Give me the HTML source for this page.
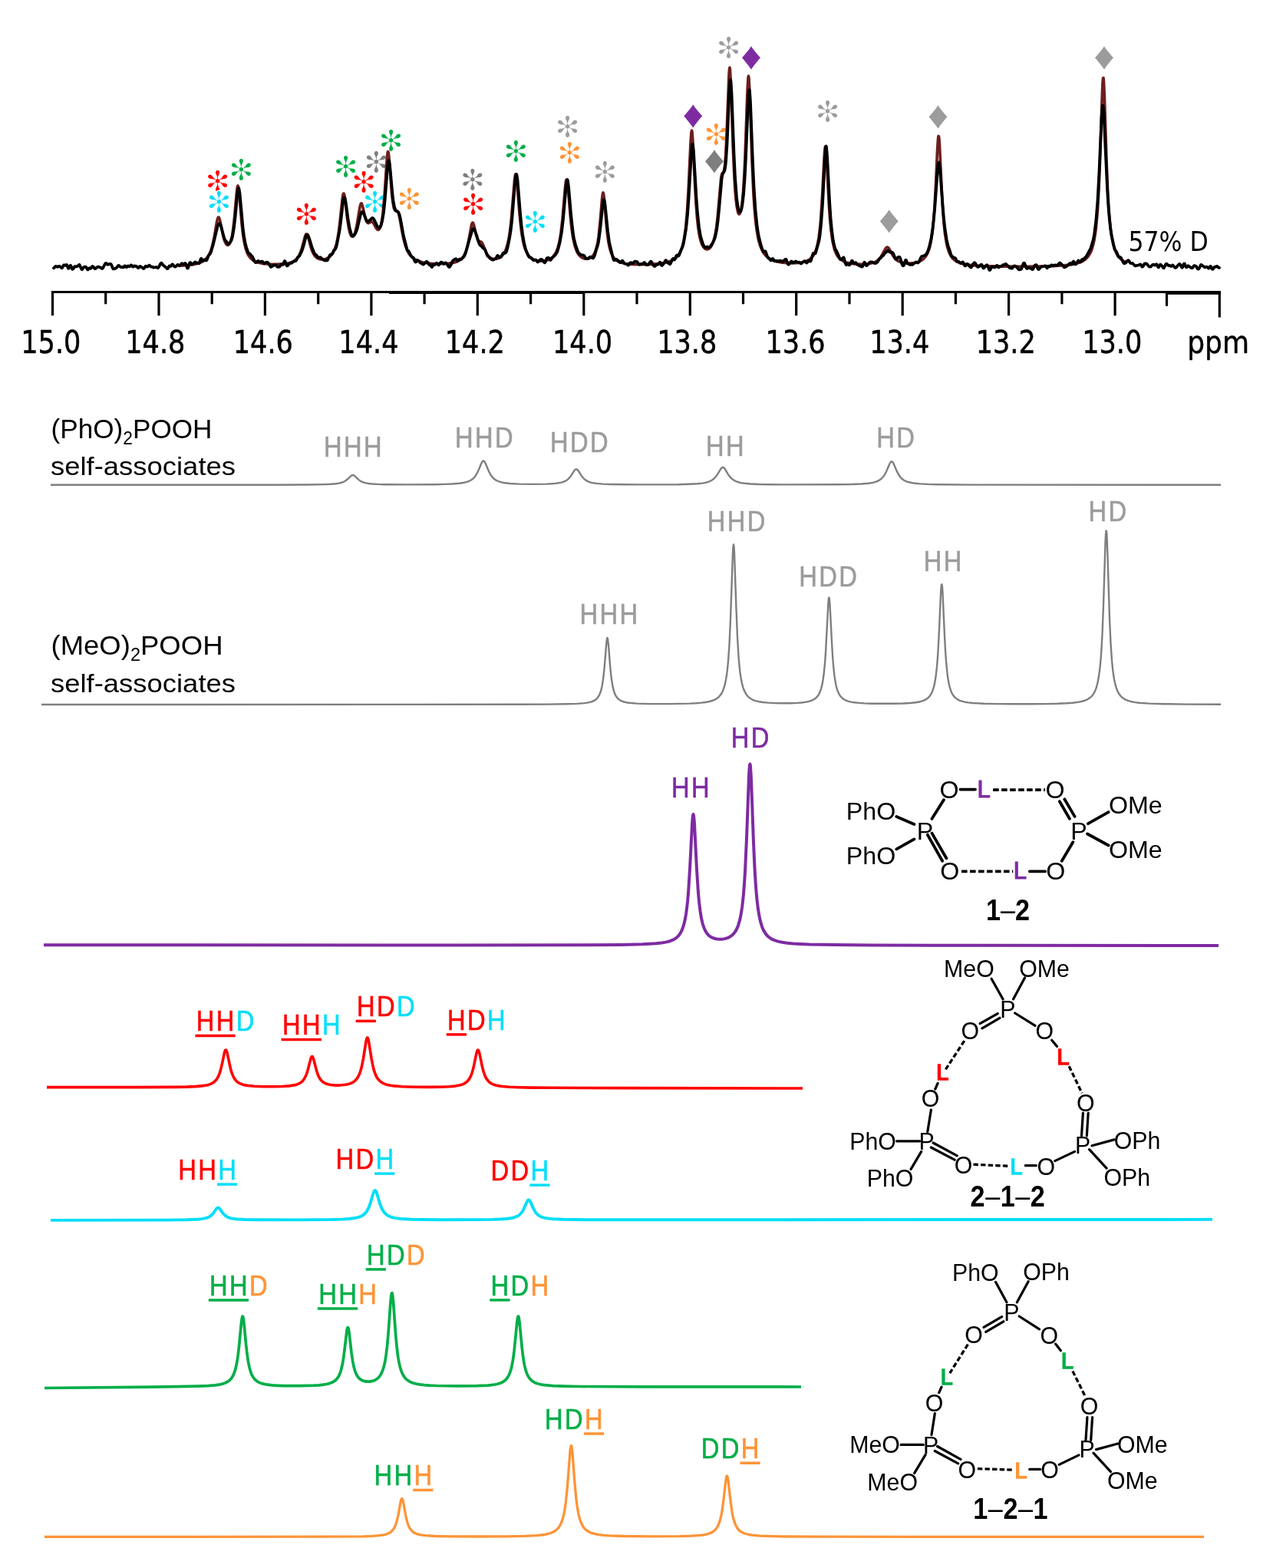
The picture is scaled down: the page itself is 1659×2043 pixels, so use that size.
<!DOCTYPE html>
<html lang="en"><head><meta charset="utf-8"><title>NMR spectrum 57% D</title>
<style>html,body{margin:0;padding:0;background:#fff}svg{display:block}text{white-space:pre}</style></head><body>
<svg width="1659" height="2043" viewBox="0 0 1659 2043">
<rect width="1659" height="2043" fill="#fff"/>
<g font-family="'DejaVu Sans','Liberation Sans',sans-serif" font-size="39" text-anchor="middle" stroke="#fff" stroke-width="1.3">
<text x="283.5" y="250.2" fill="#ff0000">✻</text>
<text x="285.4" y="277.4" fill="#04def8">✻</text>
<text x="314.4" y="234.7" fill="#00ae48">✻</text>
<text x="399.3" y="293.1" fill="#ff0000">✻</text>
<text x="450.6" y="230.6" fill="#00ae48">✻</text>
<text x="474.2" y="251.1" fill="#ff0000">✻</text>
<text x="490.4" y="224.6" fill="#7f7f7f">✻</text>
<text x="488.7" y="276.5" fill="#04def8">✻</text>
<text x="509.7" y="196.9" fill="#00ae48">✻</text>
<text x="533.3" y="272.8" fill="#fd9437">✻</text>
<text x="615.8" y="247.5" fill="#7f7f7f">✻</text>
<text x="616.5" y="279.6" fill="#ff0000">✻</text>
<text x="672.4" y="210.9" fill="#00ae48">✻</text>
<text x="697.3" y="303.0" fill="#04def8">✻</text>
<text x="739.5" y="178.8" fill="#9c9c9c">✻</text>
<text x="742.4" y="212.6" fill="#fd9437">✻</text>
<text x="788.4" y="237.9" fill="#9c9c9c">✻</text>
<text x="933.3" y="189.0" fill="#fd9437">✻</text>
<text x="949.5" y="76.4" fill="#9c9c9c">✻</text>
<text x="1078.5" y="159.1" fill="#9c9c9c">✻</text>
</g>
<g font-family="'Liberation Sans','DejaVu Sans',sans-serif" font-size="50" text-anchor="middle">
<text transform="translate(903.2 151.4) scale(1.08 1)" y="14.5" fill="#7e2ba2">♦</text>
<text transform="translate(930.9 210.5) scale(1.08 1)" y="14.5" fill="#7f7f7f">♦</text>
<text transform="translate(979.1 75.5) scale(1.08 1)" y="14.5" fill="#7e2ba2">♦</text>
<text transform="translate(1158.8 288.1) scale(1.08 1)" y="14.5" fill="#9c9c9c">♦</text>
<text transform="translate(1222.6 152.3) scale(1.08 1)" y="14.5" fill="#9c9c9c">♦</text>
<text transform="translate(1439.1 75.6) scale(1.08 1)" y="14.5" fill="#9c9c9c">♦</text>
</g>
<path d="M235.5 346.3L243 345.7L249 345L254 344.2L258.5 343L262 341.7L265 340.1L267.5 338.2L270 335.5L272 332.5L273.5 329.6L275 325.8L276.5 320.9L279 309.6L282.5 289.4L283.5 285.2L284 283.9L284.5 283.1L285 283L285.5 283.6L286.5 286.4L290.5 306L292 311.8L293 314.7L294.5 317.7L296 319.2L297 319.4L297.5 319.2L298.5 318.4L299 317.7L300.5 314.5L301.5 311.1L302.5 306.6L303.5 300.6L305.5 283.3L308.5 249.2L309.5 242.8L310 242L310.5 243.1L311.5 250L315 291.3L316.5 304.7L318 314.4L320 323.3L322 329.1L323.5 332.2L325 334.5L326.5 336.4L328.5 338.2L330.5 339.6L332.5 340.7L337 342.3L343 343.5L351 344.3L360.5 344.4L369.5 343.9L373 343.4L376.5 342.7L379 342L381.5 341L384 339.5L386.5 337.4L388.5 334.9L390 332.3L391.5 329L393 324.7L397.5 308L398.5 305.7L399 305.1L399.5 305L400 305.4L400.5 306.2L401.5 308.9L404.5 320.1L406.5 326.4L408.5 330.8L409.5 332.4L411 334.3L412.5 335.7L414.5 336.9L416.5 337.7L418.5 338L420.5 338.1L423 337.8L425.5 337L427.5 336.1L429.5 334.7L431 333.4L432.5 331.6L434 329.4L435.5 326.4L436.5 324L438.5 317.4L440 310.4L441.5 301L443 288.6L446 259.8L447 253.6L447.5 252.2L448 252.1L448.5 253.2L449 255.5L450 262.7L452.5 284.5L454.5 297.4L456 303.5L457 306.1L458 307.7L459 308.3L459.5 308.3L460.5 307.6L462 305L463 302.1L465 293.5L469 269.6L470 265.9L470.5 265.1L471 264.9L471.5 265.5L472.5 268.3L476 284L477 287.2L478 289.3L479 290.4L480 290.8L481 290.5L483.5 288.9L484.5 288.8L485 289L486.5 290.5L490 296.9L491.5 298.9L492.5 299.5L493 299.5L494 298.9L494.5 298.2L496 294.6L497 290.6L498 285L499 277.4L501 255.1L504 209.4L505 199.5L505.5 197.6L506 198L506.5 200.5L507 205L510.5 251.5L511.5 261L513 270L513.5 271.8L514.5 274L515.5 274.8L517 274.8L518 275.3L519 277L519.5 278.4L521 284.8L524 301.9L526 311.8L528 319.4L530.5 326.1L533 330.7L536 334.4L538 336.2L540 337.6L544.5 339.8L550.5 341.7L558 343L567 343.7L576.5 343.8L584 343.4L590.5 342.4L595.5 341L597.5 340L599.5 338.8L602 336.6L604 334L606 330.3L607.5 326.4L609 321.3L610 317L614.5 292.9L615.5 290.3L616 290L616.5 290.3L617.5 292.8L620.5 305.9L621.5 309.4L622.5 312L623 312.9L624 314.1L625 314.6L627 315.1L628 316L628.5 316.7L629.5 318.7L633.5 328.7L635 331.5L636.5 333.6L638 335.1L640 336.4L642 337.2L644.5 337.5L647 337.3L649.5 336.6L651.5 335.6L653.5 334.1L655.5 331.9L657 329.7L658.5 326.8L659.5 324.4L661.5 317.9L663.5 308.1L665 297.6L666.5 283.5L670.5 234.5L671.5 227.9L672 227L672.5 227.9L673.5 234.6L677 278.1L678.5 293.5L680 305.2L681.5 313.8L682.5 318.2L684 323.4L685 326.1L686.5 329.3L688 331.8L690 334.3L692 336.1L694 337.4L696 338.4L698.5 339.3L701 339.8L703.5 340.1L708.5 340L711 339.6L713.5 339L715.5 338.2L717.5 337.1L720.5 334.6L723 331.5L724.5 328.9L725.5 326.7L727 322.5L728.5 316.9L730 309.3L731 302.8L733 285.2L736.5 244L737.5 236.1L738 234.3L738.5 234.1L739 235.6L740 242.9L743 278.6L744.5 293.8L745.5 301.9L747 311.4L749 320.2L751 326L752 328.2L753.5 330.8L755 332.8L756.5 334.3L759 336L762 337.1L765 337.3L768 336.7L770.5 335.3L772.5 333.4L774.5 330.4L776 327L778 320L779 315L780 308.5L782 289.8L784.5 259.5L785.5 252L786 251L786.5 252.1L787.5 259.6L790.5 295.8L791.5 305.3L793 315.9L794.5 323.2L796.5 329.7L798.5 333.9L801 337.3L802.5 338.7L804.5 340.1L806.5 341.1L809 342.1L815 343.5L823 344.4L835.5 344.8L849.5 344.4L860.5 343.4L865 342.7L869 341.8L874 340.2L878 338.2L881.5 335.4L884 332.4L886.5 328.2L888.5 323.2L890 318L891.5 310.9L893.5 297L895.5 274.7L897 249.9L900 185.1L901 171.9L901.5 170L902 171.7L903 184.6L905.5 238.4L907 265.4L908.5 284.6L910 298L911 304.4L912 309.5L913.5 315.1L915 319L916.5 321.7L918.5 323.8L919.5 324.4L920.5 324.8L921.5 324.9L923 324.5L924.5 323.6L925.5 322.7L927 320.6L928 318.8L930 313.7L932 305.7L933.5 297L935 284.8L939.5 233.5L940 230L940.5 227.6L941 226.2L941.5 225.5L942.5 224.8L943 224L943.5 222.4L944.5 216.1L945.5 204.3L946.5 186.2L950 96.4L950.5 89.9L951 88L951.5 91.1L952.5 110.4L955 186.6L957 232.7L958 248.2L959 259.8L960 268.2L961.5 275.9L962 277.4L962.5 278.4L963 279L963.5 279L964 278.6L965 276.4L966 272.1L967 265.4L968.5 249.8L970 225.4L971 203.1L974 118.1L975 101L975.5 99L976 101.8L977 120.4L980 210.5L982 254.2L983 269.6L984.5 286.9L986 299.2L988 310.5L989 314.8L990.5 319.8L993 325.9L994.5 328.6L996.5 331.4L998.5 333.6L1000.5 335.4L1003 337.1L1005.5 338.4L1008.5 339.6L1012 340.7L1016 341.6L1020 342.2L1029.5 342.9L1037.5 342.8L1044 342.1L1049.5 340.8L1053.5 339L1055.5 337.7L1057 336.4L1059.5 333.5L1062 329.1L1064 323.6L1065.5 317.7L1067 309.5L1068.5 297.6L1069.5 287L1071.5 256.6L1074 206.5L1075 193.4L1075.5 191.1L1076 192.1L1076.5 196.3L1077 203.2L1080.5 270.4L1081.5 284.7L1083 300.5L1085 314.4L1087 323.2L1088 326.4L1089.5 330.1L1091 332.9L1093 335.6L1095.5 338.1L1099 340.3L1103 341.9L1108 343.1L1114.5 343.9L1122 344.2L1129 344L1135 343.1L1138 342.3L1140.5 341.3L1143 339.8L1145 338.2L1147 336L1148.5 333.9L1154 323.9L1155.5 322.2L1156.5 322L1157.5 322.5L1158.5 323.7L1163.5 332.8L1165 335L1166.5 336.9L1168 338.3L1170 339.8L1172 340.9L1174 341.7L1177.5 342.6L1182 343.1L1186.5 343.1L1191 342.6L1194.5 341.9L1198 340.8L1201 339.2L1203.5 337.4L1205.5 335.3L1207.5 332.5L1209 329.6L1210.5 325.8L1212 320.7L1213 316.3L1215 303.8L1216.5 289.5L1218 268.9L1219.5 240.4L1221.5 196L1222.5 180.5L1223 177.3L1223.5 177.7L1224 181.6L1224.5 188.7L1227 242.7L1228.5 270.7L1230 290.8L1231.5 304.8L1233.5 317.1L1234.5 321.4L1236 326.5L1237.5 330.3L1239.5 333.9L1241.5 336.6L1243.5 338.5L1247 340.9L1251 342.7L1256 344L1262.5 345.1L1270.5 345.9L1280.5 346.5L1309.5 347.1L1333 347.2L1355 347L1371.5 346.6L1384 346L1393.5 345.1L1401 343.9L1407 342.1L1411.5 340L1415 337.5L1418 334.3L1420.5 330.4L1422.5 325.9L1424.5 319.6L1426 313L1427.5 304L1428.5 296.1L1430.5 273.5L1432 247.6L1433.5 211L1436.5 117.9L1437 107.7L1437.5 102L1438 101.4L1438.5 106.1L1439.5 128.5L1442 208.1L1443.5 245.6L1444.5 264.3L1445.5 278.9L1447.5 299.5L1449 309.7L1450.5 317.2L1452.5 324.3L1455 330.2L1457.5 334.2L1459 336L1461 337.9L1463 339.4L1465 340.6L1469.5 342.6" fill="none" stroke="#6d1e1e" stroke-width="3.6" stroke-linejoin="round"/>
<path d="M70 349.3L72.5 346.9L73 346.9L75 347.8L77 346.8L78 347.1L80.5 349.3L81 349.2L83 345.4L83.5 345.2L85 345.9L86.5 345L87 345.1L87.5 345.9L88.5 348.7L89 349.7L89.5 349.9L90 349.3L91.5 346L92 345.8L92.5 346.5L94 350.3L94.5 350.8L95 350.7L95.5 350.2L97.5 347.1L98 347L99.5 347.3L101 346.9L101.5 346.6L103 344.9L103.5 344.9L104 345.6L105.5 349.4L106.5 351L107 351.1L107.5 350.6L109 348.2L109.5 347.9L111.5 347.6L112 347.8L112.5 348.4L113.5 350.5L114 351.3L114.5 351.4L116.5 349.3L118 349.9L118.5 349.6L120 347.3L120.5 347L121.5 347.4L123.5 350.2L124.5 350L127.5 347.6L128 347.5L131 348.6L133 350L133.5 349.9L134 349.3L136.5 344.6L137.5 343.2L138 342.9L138.5 343L140 344.6L140.5 344.8L142.5 343.9L144.5 344.1L145.5 345.7L147 349.6L147.5 350.2L148 350.4L149.5 350.2L151.5 349.1L152.5 348.2L154 346.1L154.5 345.8L155 346L157 347.9L158 348.1L159.5 348L160.5 348.4L161 348.3L162.5 346.4L163 346.3L164.5 348L165 348.1L166.5 346.6L167 346.5L168.5 347.3L169 347.2L170.5 345.5L171 345.3L171.5 345.6L173 347.6L173.5 347.6L175 346.5L177.5 346.9L178.5 347.5L180 349.1L180.5 349L182 347.2L182.5 347L184.5 347.9L187 350L187.5 349.9L188 349.4L189.5 347L190 346.7L192 347.6L192.5 347.4L194 345.9L194.5 345.6L195 345.8L196.5 347.4L197 347.7L198.5 347.7L200 348.7L203.5 348L205.5 349.2L206 349L207 347.9L209 343.8L210 342.6L210.5 342.6L211 343.2L212.5 345.6L214 346.4L215 347.5L216.5 348.6L218 350.1L218.5 350.1L219 349.4L220.5 346.6L221 346.4L222.5 346.9L223 346.5L224.5 344.3L225 344.3L227 347.1L228 347.7L229 347.3L231.5 345L232 345L233.5 346.2L234 346.4L234.5 346.1L236 344L237 343.2L238 343.5L239.5 344.6L240 344.3L241 343.1L241.5 342.9L242 343.5L242.5 344.7L244 349.1L244.5 349.6L245 349.2L245.5 348L246.5 344.3L247.5 342.1L248 342L248.5 342.4L250 344.5L250.5 344.7L251 344.4L254 341.6L254.5 341.4L255 341.6L256.5 342.9L258 342.6L259 343.2L259.5 343.1L260 342.4L261.5 337.7L262 336.9L262.5 336.9L264 339.6L264.5 340L265 339.8L266.5 338.3L267 338.3L268.5 339.5L269 339.4L269.5 338.7L271.5 333.7L274 330.4L275 328.3L278 317.9L283.5 295.1L284.5 292.3L285.5 291.1L286 291.1L286.5 291.4L288 294.6L291.5 307.9L292.5 311L293.5 313.1L295 314.7L297 317.5L297.5 317.9L298.5 317.5L299.5 316.5L301.5 313.1L303 308.2L305 296.4L306.5 283.3L309.5 251.6L310.5 245.9L311 245.2L311.5 246.1L312.5 252.3L316.5 296.2L318 308L319.5 316.4L321 322.1L323.5 329.3L324 330.1L324.5 330.4L325.5 330.5L326 330.9L327.5 333.2L329 334.5L332 340.9L333 342.2L334 342L336 340.1L336.5 340L338.5 341.1L341.5 340.6L342 340.8L344 343.3L344.5 343.4L345 343.1L346.5 341.9L348 341.7L349 342.1L350 343.2L352.5 347.3L353 347.8L353.5 347.8L356.5 345.7L359 345.3L359.5 345.3L360 345.7L361.5 347.7L362 347.9L363.5 347.8L364.5 347.5L366.5 344.7L367 344.3L368.5 345L369 344.6L370.5 340.7L371 340L371.5 340.2L372 341.3L373.5 345.6L374 346.3L374.5 346.4L375 346.2L377.5 343L378 342.8L380 342.8L383 340.5L385.5 339.8L386.5 338.4L388 335.2L388.5 334.7L389.5 334.4L390 333.8L393 327.9L394 325.4L396 318.7L398.5 308.9L399.5 306.2L400 305.6L400.5 305.6L401 306.1L402 308L404 313.6L406.5 322.3L409.5 329.4L410.5 331.1L412.5 332.5L414 335L414.5 335.4L418 335.5L420.5 337.9L423 339.4L423.5 339.5L425 339.1L426.5 339.4L427 338.8L428.5 335.2L430 332.4L431 331.5L432.5 331.2L433 330.8L435 326.4L437 324.6L438 322.2L439 318.7L442.5 300.6L444 289.6L447 263.6L448 258.4L448.5 257.2L449 257.1L449.5 258.1L450.5 262.7L453.5 285L455.5 296.7L457.5 304.1L458.5 306.4L459.5 307.6L460.5 307.6L461.5 306.7L463.5 303.4L464.5 301.3L466 296.1L470 279.2L471 276.6L472 275.6L472.5 275.7L473.5 277L477 285.8L478.5 288.2L479 288.5L480 288.5L481.5 287.3L484.5 284.3L485 284L486 284.2L487.5 286L491 293.4L492.5 295.9L493.5 296.8L494 296.9L495 296.5L495.5 295.9L496.5 293.8L498 288.4L500 276.8L501.5 262.4L505 218.3L506 210.7L506.5 209.2L507 209.5L508 215.1L511.5 253.6L512.5 261.8L514 269.7L515.5 273.8L516.5 274.9L518 275.5L519 276.2L520.5 279.4L522 285.8L526 307.8L530.5 325.1L531 326L532.5 327.1L535 332.1L536.5 334.3L537 334.8L538.5 335.4L539 336.2L540.5 340.3L541 341.1L541.5 341.5L542 341.3L543.5 339.2L544 338.9L545 339.5L548 342.6L549.5 343.2L551.5 344.6L552 344.4L555.5 341L556.5 341L557.5 342.1L559 344.6L559.5 345L561 345.2L562.5 347.8L563 348.1L565 344.7L566.5 345L567 344.7L568.5 343L569 342.8L569.5 343L571 344.9L571.5 345.4L572 345.3L574 342.2L575 341.5L576 341.9L578 343.7L578.5 343.8L579 343.5L580.5 342.3L581 342.4L582 343.5L585 347.8L585.5 347.9L586 347.7L587.5 345.5L589.5 340.7L591 338.8L593 337.5L594 337.2L594.5 337.5L596 339.5L596.5 339.7L597 339.6L598.5 337.8L599 337.6L600.5 338L601 337.9L604 335.1L605 333.9L607 329L610 317.9L615 301.1L616 298.5L616.5 297.9L617 297.7L617.5 297.8L618 298.4L619 300.8L621.5 307.7L623.5 314.9L624.5 317.5L625.5 319.2L627.5 320.8L629.5 323.2L631.5 324.6L632.5 326.3L634.5 331.7L635.5 333.6L637 334.7L638.5 336.6L642 338.7L642.5 338.6L644 337.6L645.5 337.4L646 337.1L648 333.4L648.5 332.9L649 333L651 335.2L652 335.3L653 334.6L655.5 330L656 329.5L656.5 329.5L657.5 329.8L658.5 329.7L659.5 328.6L660 327.6L661.5 322.5L664 310.4L665.5 301.2L667 288.5L671.5 234.4L672.5 227.9L673 227L673.5 228L674.5 234.7L678 277.9L679.5 293.3L681 305L683 316.5L685 324.6L687 329.7L689 334.1L690 335.4L691.5 335.6L692.5 336.2L695 339L696 339L698 338.5L699 339.3L700.5 341.3L701 341.4L704 338.4L705 337.9L706 337.9L707 338.7L709 341.7L709.5 342.2L710 342.3L710.5 341.7L712.5 336.6L713 336.2L715 335.9L715.5 336.3L717 338.9L717.5 339L719.5 336.1L724 331.8L726 328.6L727.5 323.9L729.5 316.3L732 302.2L734 285.1L738 239.4L739 234.2L739.5 234.1L740 235.7L741 243.4L744.5 283.8L747 305.2L748 310.9L750 318.8L753 327.6L753.5 328.8L754.5 330.1L757.5 332.3L760 332.4L761 332.8L762 334.1L763.5 336.7L764 337L766.5 336.9L768.5 334.9L771 335.3L772.5 336.4L773 336.4L774 335.1L775 332.7L777 325.6L779 319.7L780 315.2L782 300.5L785.5 266.9L786.5 261L787 260.2L787.5 261L788.5 266.4L792 300.8L794 315.7L799 336.6L800 338.9L800.5 339.2L801 339.1L802.5 337.9L803 337.8L803.5 337.9L804.5 338.8L806 339.8L808 342.1L808.5 342.2L809 341.8L810.5 339.8L811 339.7L811.5 340L813.5 343.1L814.5 343.7L816.5 343.9L818.5 345.7L819 345.6L819.5 345L821 342.5L821.5 342.3L822.5 342.2L824.5 343.2L825 343L826.5 341.2L827.5 340.7L830 340.9L830.5 341.3L832.5 344.3L833 344.7L833.5 344.7L835.5 343.8L837.5 344L839.5 342L840 342.1L840.5 342.6L842 345L842.5 345.2L844 345.2L845 344.6L847.5 341.2L848 340.7L848.5 340.6L849.5 341.8L851.5 345.6L852.5 346.8L853 347L853.5 346.9L855.5 345L858 344.3L860 341.7L860.5 342L862 345.6L862.5 346L863 345.7L865 343.3L867 339.7L867.5 339.2L868 339.2L870 341.9L873 344.2L873.5 343.9L874 343L876 338.4L877 337L877.5 337L878.5 338.3L879 338.5L879.5 338L881 334L882 332.6L882.5 332.5L884 333.4L884.5 333.3L885 332.7L887.5 326L889.5 321.8L890.5 318.3L891.5 313.4L894 298.6L896 279.8L897.5 258.9L901 198.7L902 188.9L902.5 187.6L903 188.9L904 198.6L907.5 257.9L909 277.8L911 296L913 308L916 317.9L917.5 320.9L918.5 321.9L919.5 322.5L920 322.4L921.5 321.4L922 321.5L923.5 322.8L924.5 322.5L925.5 321.4L929 316.2L931 311.8L932 309L934 299.6L935.5 288.6L937 273.8L940.5 233.5L941 230L942 226L943.5 224L944.5 221.5L945.5 215.3L946 210.3L947.5 187.5L950.5 119.2L951.5 105.4L952 103.9L952.5 106.6L953.5 122.6L956.5 201L958 231.1L960 257.4L961 265.7L962 271.4L962.5 273.4L963.5 275.6L964 276.1L964.5 276L965.5 274.8L966.5 271.7L967.5 266.2L969 253.3L970.5 233.4L971.5 215L975 132.1L976 118.6L976.5 117L977 119.2L978 134.2L981 211.9L982.5 243.6L984.5 273.6L986.5 293.3L988 303.7L989 308.8L991.5 318.9L993.5 325.2L994.5 327.1L995 327.7L995.5 327.8L997 327.2L997.5 327.4L998 328.3L999.5 332.9L1000.5 335.2L1001.5 336.4L1003 337.5L1004.5 339.3L1005 339.3L1006.5 337.2L1007 336.9L1007.5 337.3L1009 340L1009.5 340.2L1010.5 339.6L1011 339.7L1012 340.3L1013.5 339.9L1015 340.4L1017 339.6L1020 340.8L1021 340.4L1023 338L1024 337.7L1024.5 338.1L1025 339L1026.5 343.4L1027 344.4L1027.5 344.7L1028.5 343.9L1030.5 341L1031 340.5L1031.5 340.4L1033.5 342.4L1034.5 342.2L1036 340.9L1037 340.5L1039.5 341.9L1041.5 341.7L1043.5 343.4L1044 343.5L1046 341.7L1048 340.3L1049 340.1L1051 342.4L1051.5 342.5L1053.5 339.9L1054 339.9L1055.5 340.5L1056 340.6L1056.5 340.2L1057 339.3L1058.5 333.6L1059.5 330.7L1060 330L1060.5 329.8L1062 330.4L1062.5 330.2L1063 329.4L1067.5 313.3L1068.5 306.6L1070 292.6L1072 265.6L1075.5 197.9L1076 192.6L1076.5 190.4L1077 191.6L1078 203.1L1081 261.4L1082.5 284L1084 300.1L1085.5 311.3L1086.5 316.7L1088 322.9L1088.5 324.2L1090.5 327.7L1092 331L1094.5 337.1L1095 337.9L1095.5 338.2L1096 338.2L1097.5 337.2L1099 335.5L1099.5 335.5L1100 336.4L1101.5 342.4L1102.5 344.9L1103 345.2L1104.5 344.1L1105 344L1106.5 345.3L1107 345.4L1108 344.2L1110 339.9L1110.5 339.6L1111 340.1L1112.5 343L1113 343.1L1115 342.1L1115.5 342.3L1117.5 345L1120.5 346.3L1123 347.7L1124 347.2L1124.5 346.4L1126 342.4L1126.5 341.7L1127 341.9L1128.5 345.2L1129 346L1129.5 346.2L1130 345.9L1132 343.1L1134 341.4L1136.5 341.3L1139 342.7L1140 343L1141 343L1143 341.9L1143.5 341.4L1146 337.3L1147.5 336.3L1149.5 333.9L1151 333L1153 329.9L1155 328.6L1156.5 326.5L1157 326.3L1157.5 326.6L1159.5 328.6L1161.5 328.3L1163.5 329.5L1164.5 331.2L1166.5 336.5L1167.5 337.8L1168 337.9L1168.5 337.6L1170 335.4L1170.5 335.1L1171.5 334.8L1172.5 335.1L1173.5 337.1L1175.5 344.3L1176 345.4L1177 346.3L1177.5 346.2L1178 345.4L1179.5 340.5L1180 339.2L1180.5 338.7L1181 339.1L1182.5 343L1183 343.7L1184.5 344L1186 345L1187.5 344.7L1189 344.9L1191 343.3L1194 341.5L1196 342.4L1196.5 342.3L1198 340.5L1200 335.8L1201 334.3L1202 333.8L1203.5 333.5L1207 331.3L1209 327.8L1211 321.6L1213.5 310.9L1215.5 297.9L1218 273.9L1222 219.9L1223 212.7L1223.5 211.6L1224 212.5L1225 219.5L1228.5 267.5L1230 285.1L1231.5 298.4L1233.5 311.3L1235.5 320.3L1237.5 325.7L1239.5 332.3L1240.5 334L1243.5 335.8L1245 336.3L1245.5 337L1247 340.5L1247.5 341.1L1249.5 340.9L1252 342.9L1252.5 343L1254 341.7L1254.5 341.4L1255 341.6L1257 345.7L1257.5 346.3L1258 346.4L1258.5 346L1260 344L1260.5 343.8L1261 344L1262.5 345.9L1265 348.4L1265.5 348.5L1266 348.1L1268.5 343.7L1269.5 342.5L1270 342.2L1270.5 342.4L1271 343L1273 346.7L1274 347.8L1274.5 347.9L1275.5 347.5L1278.5 344.8L1279 344.6L1279.5 344.9L1281 348.6L1281.5 349.4L1282 349.4L1282.5 348.9L1285.5 345.4L1286 345.2L1286.5 345.4L1287 346.1L1289 351.1L1289.5 351.9L1290 352L1290.5 351.5L1292 348.4L1292.5 347.7L1293 347.4L1295 348.4L1296.5 348.3L1297.5 347.8L1299 346L1299.5 346L1301 348.3L1301.5 348.5L1303 347L1303.5 346.9L1305 347.3L1307 345.2L1309 344.8L1310.5 343.9L1311 343.9L1312.5 345.6L1314 346.7L1316 349.2L1317.5 349.3L1318.5 349.7L1319 349.5L1321 346.8L1322.5 346.4L1323.5 346.9L1325.5 348.5L1327.5 351L1328.5 351.4L1330.5 351L1331 350.5L1333.5 343.7L1334 342.9L1334.5 342.6L1335 342.9L1335.5 343.8L1337 348L1338 349.8L1338.5 350L1340 349L1341 348.9L1343.5 349.8L1345.5 351.1L1346 350.9L1346.5 350.1L1348.5 345.9L1350 345.1L1350.5 345.2L1351 345.9L1352.5 350L1353 350.8L1353.5 351L1354 350.7L1356.5 348L1357.5 347.3L1360 347.1L1362 346.3L1362.5 346.4L1364.5 349.2L1365 349L1366.5 346.6L1367 346.6L1368 347.3L1368.5 347.2L1370 345.5L1370.5 345.3L1372.5 346.3L1374.5 345.5L1378 345.7L1379 344.9L1380.5 342.7L1381 342.5L1382 343L1385 345.8L1386.5 347.8L1387 348.3L1387.5 348.4L1389.5 347.4L1394.5 342.9L1395 342.9L1396.5 344.3L1397 344L1398.5 340.9L1399 340.5L1399.5 340.9L1401 343.9L1401.5 344.4L1402 344.4L1403 343.2L1405 339.6L1405.5 339.5L1407 341.2L1407.5 341.4L1408 341.2L1410 338.2L1410.5 337.9L1412 338.4L1413.5 336.1L1415.5 334.4L1421 324.4L1421.5 323.1L1424.5 313.3L1426 306.1L1428.5 286.1L1430.5 260.8L1432.5 223.5L1435.5 154.7L1436.5 140.3L1437 137.4L1437.5 137.8L1438.5 147.9L1443 245.5L1444.5 269.2L1446 286.9L1447 295.9L1448.5 306.4L1452 322.4L1453 325.5L1455 327.9L1457.5 334.3L1458 334.7L1460 335.1L1461 336L1464 342.1L1465 343.3L1465.5 343.3L1466 343L1468 340.7L1470 339.3L1470.5 339.2L1471 339.6L1473 342.7L1474 343.1L1476 343L1479 346.2L1479.5 346.4L1481.5 345.9L1483.5 345.7L1486 344.3L1486.5 344.6L1488 347.1L1488.5 347.6L1489 347.6L1489.5 347.2L1491.5 343.7L1492 343.4L1493.5 343.4L1494.5 343.8L1497 346.9L1498 347.5L1499 347.7L1500 347.2L1501.5 345.5L1502.5 344.8L1503.5 344.7L1505 345.7L1505.5 345.6L1507 344.2L1507.5 344.5L1509.5 348.4L1510 348.4L1511.5 345.3L1512 344.6L1512.5 344.6L1514.5 346.7L1516 348.9L1516.5 349.3L1517 349L1519 344.7L1520 343.6L1520.5 343.8L1522.5 345.9L1523 346.1L1524.5 345.9L1526 347.1L1526.5 347L1528 345.4L1528.5 345.5L1531 348.6L1532 348.9L1533 348.2L1536 344.8L1537 344L1537.5 344L1538.5 345L1540 348.3L1540.5 348.7L1541 348.4L1543 343.6L1543.5 343.4L1544 343.9L1545.5 347.8L1546 348.4L1546.5 348.3L1548 346.4L1548.5 346.2L1552 348.8L1553 349.2L1554 349.2L1556 346.3L1556.5 346.1L1558.5 346.7L1559 347.1L1560.5 349.9L1561 350.5L1561.5 350.6L1562.5 350L1563 349.3L1564.5 345.9L1565 345.1L1565.5 344.9L1567 346.2L1568.5 346.9L1570 348.3L1570.5 348.4L1571.5 347.8L1572.5 347.6L1573.5 348.2L1575 349.7L1575.5 349.5L1577 347.2L1577.5 346.9L1578 347.2L1579.5 350.3L1580 350.9L1580.5 350.9L1582.5 348L1584 347.9L1585.5 346.9L1586 346.9L1586.5 347.2L1588 348.7L1589 348.9" fill="none" stroke="#000" stroke-width="3.8" stroke-linejoin="round" stroke-linecap="round"/>
<g stroke="#000" stroke-width="3" fill="none" stroke-linecap="butt">
<path d="M66.9 380.6H1590.9"/>
<path d="M507 381.4H760M1519 382.2H1590.9"/>
<path d="M68.5 380.6V411.2M137.7 380.6V396.2M207.0 380.6V411.2M276.2 380.6V396.2M345.4 380.6V411.2M414.7 380.6V396.2M483.9 380.6V411.2M553.1 380.6V396.2M622.3 380.6V411.2M691.6 380.6V396.2M760.8 380.6V411.2M830.0 380.6V396.2M899.3 380.6V411.2M968.5 380.6V396.2M1037.7 380.6V411.2M1107.0 380.6V396.2M1176.2 380.6V411.2M1245.4 380.6V396.2M1314.6 380.6V411.2M1383.9 380.6V396.2M1453.1 380.6V411.2M1520.5 380.6V398.7M1589.3 380.6V413.6" stroke-width="3.2"/>
</g>
<g font-family="'DejaVu Sans Condensed','DejaVu Sans','Liberation Sans',sans-serif" font-size="40" fill="#000" stroke="#000" stroke-width="0.45" text-anchor="middle">
<text transform="translate(66.3 460) scale(0.975 1)">15.0</text>
<text transform="translate(202.3 460) scale(0.975 1)">14.8</text>
<text transform="translate(342.8 460) scale(0.975 1)">14.6</text>
<text transform="translate(480.4 460) scale(0.975 1)">14.4</text>
<text transform="translate(618.8 460) scale(0.975 1)">14.2</text>
<text transform="translate(759.1 460) scale(0.975 1)">14.0</text>
<text transform="translate(895.2 460) scale(0.975 1)">13.8</text>
<text transform="translate(1036.6 460) scale(0.975 1)">13.6</text>
<text transform="translate(1172.2 460) scale(0.975 1)">13.4</text>
<text transform="translate(1310.7 460) scale(0.975 1)">13.2</text>
<text transform="translate(1449.2 460) scale(0.975 1)">13.0</text>
<text x="1587.6" y="460">ppm</text>
<text x="1522.6" y="327" font-size="35" stroke="none">57% D</text>
</g>
<path d="M66 631.8L359 631.7L402 631.5L424 631.1L431.5 630.8L437.5 630.3L442 629.6L446 628.5L448.5 627.5L450.5 626.3L453 624.3L457.5 620L459 619.1L460 619L461 619.3L462 619.9L467.5 625.1L469.5 626.6L471.5 627.6L474 628.6L477 629.4L480.5 630L484.5 630.5L491.5 630.9L500.5 631.2L530 631.4L567.5 631.2L580 630.9L589.5 630.5L598.5 629.8L605.5 628.7L608.5 627.9L611 627L613 626L615 624.8L616.5 623.6L618 622.1L620.5 618.7L623 614L627.5 603.3L628.5 601.6L629 601L629.5 600.6L630 600.5L630.5 600.6L631 601L631.5 601.6L632.5 603.3L637 614L639.5 618.7L641 620.9L642.5 622.6L644 624L645.5 625.1L648 626.5L650.5 627.5L653.5 628.4L656.5 629L664.5 630L676 630.6L694.5 630.9L712.5 630.6L719 630.3L724 629.9L728 629.3L731.5 628.6L734 627.9L736.5 626.8L738.5 625.7L740.5 624.1L742 622.6L743.5 620.8L748 613.8L749 612.5L750 611.6L751 611.3L752 611.6L753 612.5L754 613.8L757 618.6L759 621.5L761 623.7L763 625.4L766 627.1L769 628.3L773 629.3L777.5 629.9L785.5 630.6L796 631L811.5 631.3L833 631.4L884 631.2L898.5 630.8L909 630.3L915.5 629.6L920.5 628.6L924.5 627.3L928 625.5L930.5 623.6L932.5 621.5L935 618.1L939.5 610.6L941 609.1L942 608.8L943 609.1L944 610L945.5 612.1L948.5 617.3L950.5 620.3L952.5 622.6L955 624.8L958 626.7L961.5 628L965.5 629.1L970.5 629.8L978.5 630.5L989 631L1004 631.3L1025 631.4L1091 631.3L1110 631L1123 630.5L1132 629.7L1138.5 628.6L1141 627.9L1143.5 626.9L1145.5 625.9L1147.5 624.6L1150 622.4L1152.5 619.1L1155 614.5L1159.5 604L1160.5 602.3L1161 601.8L1161.5 601.4L1162 601.3L1162.5 601.4L1163 601.8L1163.5 602.3L1164.5 604L1168.5 613.4L1171 618.3L1173.5 621.8L1176 624.3L1178 625.7L1180 626.7L1182 627.6L1184.5 628.3L1190.5 629.5L1199 630.4L1209 630.9L1222 631.2L1266.5 631.6L1591 631.8" fill="none" stroke="#7f7f7f" stroke-width="2.4" stroke-linejoin="round"/>
<path d="M54 918L679 917.8L715 917.6L737.5 917.3L752 916.9L762 916.1L766.5 915.4L770 914.6L773 913.5L775.5 912.1L777.5 910.5L779.5 908.2L781 905.6L782.5 902L783.5 898.7L784.5 894.4L786 885.4L787.5 871.8L790.5 835.6L791 832.2L791.5 831L792 832.2L793 840.6L795 866.1L796 876.9L797 885.3L798.5 894.4L800 900.4L801 903.3L802 905.6L803 907.3L804.5 909.4L806 910.9L808 912.4L810.5 913.6L813 914.5L816 915.2L820 915.8L830 916.6L845 917.1L874 917.1L899 916.6L907 916.2L914 915.6L919.5 915L924.5 914L929.5 912.5L931.5 911.7L933.5 910.6L935.5 909.2L937 907.8L939.5 904.8L941 902.3L942 900.2L944 894.5L945.5 888.4L947 879.8L948 871.9L949 861.6L950.5 839.8L952 807.3L955 720.3L955.5 712.2L956 709.4L956.5 712.2L957 720.3L959.5 793.6L961 830.3L962.5 855.3L963.5 867.1L964.5 876L965.5 883L967 890.6L968.5 896.1L970.5 901.2L972.5 904.7L975 907.7L977.5 909.8L981 911.8L984.5 913.1L989 914.2L994.5 915L1001 915.6L1010 916.1L1020 916.3L1030 916.2L1039 915.9L1044.5 915.5L1049 914.9L1053 914.2L1056.5 913.2L1059 912.2L1061.5 910.8L1063.5 909.2L1065.5 907.1L1067 904.8L1068 902.9L1069 900.6L1070 897.6L1071 893.9L1072 889.2L1073.5 879.3L1075 864.3L1076 850.4L1079.5 784.4L1080 779.6L1080.5 778.5L1081 781.1L1081.5 787.1L1084 836.5L1085 853.5L1086 866.7L1087.5 880.9L1089 890.3L1090 894.8L1091 898.3L1092 901.1L1093.5 904.3L1095 906.7L1096.5 908.5L1099 910.7L1101.5 912.2L1105 913.6L1109 914.6L1113.5 915.3L1119.5 915.9L1126.5 916.4L1135.5 916.7L1149.5 916.8L1164.5 916.8L1177 916.5L1186.5 916L1193.5 915.2L1199 914.2L1203.5 912.8L1207 911.1L1209.5 909.3L1211.5 907.1L1213.5 904.1L1215 901L1216.5 896.7L1217.5 892.9L1218.5 888.1L1219.5 881.8L1221 868.7L1222 856.4L1223.5 830.6L1226 774.4L1226.5 766.4L1227 761.8L1227.5 761.3L1228 765.1L1228.5 772.6L1231 828.6L1232 847.2L1233 861.7L1234.5 877.2L1235.5 884.6L1236.5 890.2L1237.5 894.6L1238.5 898L1240 902L1241.5 904.9L1243.5 907.7L1245.5 909.6L1248 911.4L1250.5 912.7L1253.5 913.7L1257.5 914.7L1262 915.4L1267.5 916L1282 916.8L1297.5 917.1L1318.5 917.3L1343.5 917.3L1365 917.1L1378.5 916.8L1389.5 916.3L1398 915.7L1405 914.9L1411.5 913.5L1414 912.7L1416.5 911.6L1418.5 910.5L1420.5 909.1L1422 907.8L1423.5 906.2L1425 904.1L1426 902.4L1427.5 899.2L1428.5 896.6L1429.5 893.3L1430.5 889.3L1432 881.3L1433.5 869.8L1434.5 859.3L1435.5 845.4L1436.5 827L1438 788.8L1440.5 707.8L1441 697L1441.5 691.5L1442 692.1L1442.5 698.8L1443.5 725.5L1446 805.8L1447.5 838.6L1449 860.5L1450 870.8L1451 878.7L1452 884.9L1453 889.8L1454 893.7L1455.5 898.3L1457 901.7L1458.5 904.3L1460.5 906.9L1462.5 908.8L1465 910.6L1468 912.1L1471 913.2L1475 914.3L1479.5 915.1L1484.5 915.7L1498 916.6L1517 917.2L1546 917.6L1591 917.8" fill="none" stroke="#7f7f7f" stroke-width="2.4" stroke-linejoin="round"/>
<path d="M57 1231.3L592 1231.5L766.5 1231.2L809.5 1230.9L837 1230.3L847 1229.8L855 1229.3L862 1228.5L867.5 1227.6L873 1226.2L877.5 1224.4L881 1222.2L884 1219.5L886.5 1216.1L888 1213.4L889 1211.2L891 1205.4L892.5 1199.3L894 1191.1L895 1183.9L896 1175L897 1163.8L899 1132.9L902 1073.8L902.5 1067L903 1062.5L903.5 1061L904 1062.5L904.5 1066.9L905 1073.7L908 1132.6L910 1163.3L911 1174.5L912.5 1187.1L914 1196.2L915.5 1202.8L917.5 1209L919.5 1213.3L920.5 1214.9L922 1217L923.5 1218.6L925.5 1220.2L927.5 1221.4L929.5 1222.3L932 1223L934.5 1223.5L937 1223.7L940 1223.7L943 1223.4L945.5 1222.9L948 1222.1L950 1221.2L952 1220.1L953.5 1219L955 1217.7L956.5 1216.1L958 1214.1L959.5 1211.6L961 1208.4L962 1205.9L964 1199.1L965.5 1192.2L967 1182.8L968 1174.6L969 1164.5L970 1151.9L971 1136L973 1092.5L976 1011.1L976.5 1002.2L977 996.8L977.5 995.6L978 998.5L979 1015.5L982 1097.8L983.5 1130.8L984.5 1147.8L985.5 1161.4L986.5 1172.3L988 1184.7L989.5 1193.8L991 1200.6L993 1207.2L994 1209.8L995.5 1212.9L998 1216.9L999.5 1218.7L1001.5 1220.6L1005 1223.1L1007 1224.1L1009.5 1225.2L1014 1226.6L1019.5 1227.8L1026 1228.7L1033.5 1229.4L1043 1230L1054.5 1230.5L1087 1231.1L1135 1231.4L1213.5 1231.7L1588 1232" fill="none" stroke="#7e2ba2" stroke-width="4" stroke-linejoin="round"/>
<path d="M61 1416.6L176.5 1416.6L228.5 1416.4L243.5 1416.1L254.5 1415.6L263 1414.9L269 1414L271.5 1413.4L274 1412.6L276 1411.7L278 1410.5L280 1408.9L281.5 1407.3L283 1405.2L284 1403.5L286 1398.9L287.5 1394.1L289 1388L292.5 1371.4L293.5 1368.6L294 1368.1L294.5 1368.1L295 1368.8L296 1371.7L300.5 1392.6L302 1397.7L304 1402.7L305 1404.5L306.5 1406.8L309 1409.4L310.5 1410.5L312.5 1411.6L316.5 1413.2L319.5 1413.9L322.5 1414.4L331 1415.3L342.5 1415.7L357 1415.8L368.5 1415.5L377 1414.9L383.5 1413.9L386 1413.2L388.5 1412.4L391.5 1410.8L394 1408.8L396 1406.4L398 1402.9L399.5 1399.4L401 1394.7L405 1379.3L406 1377L406.5 1376.5L407 1376.6L407.5 1377.1L408.5 1379.5L412.5 1394.9L414.5 1400.8L415.5 1403L417 1405.6L418.5 1407.6L420 1409.1L422 1410.5L424.5 1411.8L427.5 1412.8L431 1413.5L435.5 1413.9L440.5 1414.1L445.5 1413.8L450 1413.3L453 1412.8L456 1411.9L458.5 1410.9L461 1409.5L463 1407.8L464.5 1406.2L466 1404.2L467.5 1401.5L469.5 1396.5L471.5 1389.3L473.5 1379.1L477 1356.9L478 1353L478.5 1352.1L479 1352.1L479.5 1352.8L480.5 1356.5L484 1378.6L486 1389L487 1393.1L488.5 1397.9L489.5 1400.4L491 1403.4L492.5 1405.7L494.5 1408L496.5 1409.7L499 1411.3L502 1412.6L505 1413.5L509 1414.3L513.5 1414.9L524 1415.8L538 1416.2L557.5 1416.4L575 1416.2L585.5 1415.8L593 1415.1L599 1414L603.5 1412.6L605.5 1411.6L607 1410.6L609.5 1408.4L611.5 1405.8L613.5 1402.1L615 1398.3L616.5 1393.2L618 1386.7L620.5 1374.3L621.5 1370.3L622 1369L622.5 1368.2L623 1368L623.5 1368.5L624 1369.5L625 1373L628 1387.7L630 1395.8L632 1401.5L633 1403.7L634.5 1406.2L636 1408.2L638 1410.1L640 1411.5L642 1412.6L644.5 1413.5L647.5 1414.4L654.5 1415.5L663.5 1416.2L675.5 1416.7L692.5 1417.1L718 1417.3L811.5 1417.6L1046 1418" fill="none" stroke="#ff0000" stroke-width="3.6" stroke-linejoin="round"/>
<path d="M66 1589.9L217.5 1589.6L243 1589.3L257.5 1588.7L263 1588.1L267 1587.4L270.5 1586.4L273 1585.2L275 1583.8L276.5 1582.4L278.5 1580L282 1575L283 1574L284 1573.5L285 1573.7L286 1574.5L290 1580.1L291.5 1581.9L293.5 1583.8L295.5 1585.2L298 1586.4L301 1587.3L305 1588L309.5 1588.5L319 1589L334 1589.3L391.5 1589.4L433.5 1589L446 1588.6L455 1588L462.5 1587L465.5 1586.4L468 1585.7L470.5 1584.7L472.5 1583.6L474.5 1582.1L476 1580.7L477.5 1578.9L478.5 1577.4L480.5 1573.5L482.5 1568.3L486 1556.3L487 1553.4L488 1551.5L488.5 1551.1L489 1551L489.5 1551.4L490 1552.1L491 1554.5L495 1568L496 1570.8L497.5 1574.4L498.5 1576.4L500 1578.7L501.5 1580.6L503.5 1582.4L505.5 1583.8L508 1585L511 1586.1L514.5 1586.9L518.5 1587.5L523 1588L535.5 1588.7L550.5 1589L572 1589.2L628.5 1589.1L642.5 1588.9L652.5 1588.5L660 1588L665.5 1587.3L669.5 1586.5L673 1585.2L676 1583.6L678.5 1581.4L680.5 1578.9L682 1576.4L687 1565.3L688 1563.8L688.5 1563.4L689 1563.3L689.5 1563.4L690 1563.8L691 1565.3L695 1574.4L697.5 1578.9L700 1581.9L701.5 1583.2L703 1584.2L705 1585.2L707.5 1586.2L710 1586.8L713 1587.4L721 1588.2L732.5 1588.8L766 1589.2L841.5 1589.3L1580 1588.9" fill="none" stroke="#04def8" stroke-width="3.9" stroke-linejoin="round"/>
<path d="M58 1808.5L198 1807.2L231 1806.7L257 1806.1L270.5 1805.6L280 1804.8L287 1803.8L290 1803.1L292.5 1802.3L295 1801.2L297.5 1799.7L299.5 1798.1L301.5 1795.9L303 1793.6L304.5 1790.7L306 1786.7L307 1783.3L308.5 1776.5L310 1767.2L311.5 1754.6L314.5 1723.3L315.5 1716.5L316 1715.1L316.5 1715.3L317 1717L317.5 1720L318.5 1729.1L320.5 1750.6L322 1764.1L323.5 1774.3L325 1781.6L326 1785.4L327.5 1789.7L328.5 1791.9L330 1794.5L331.5 1796.6L333.5 1798.6L335.5 1800L337.5 1801.2L340.5 1802.4L344.5 1803.4L349 1804.2L355 1804.9L362 1805.3L370.5 1805.6L392 1805.7L409 1805.2L415.5 1804.8L421 1804.2L425.5 1803.5L429 1802.6L432 1801.6L435 1800L437 1798.6L438.5 1797.1L440 1795.3L441 1793.7L443 1789.6L444 1786.8L445 1783.3L446.5 1776.5L448 1767.1L452 1733.7L452.5 1731.2L453 1729.7L453.5 1729.6L454 1730.7L455 1736.3L458 1762.2L459.5 1772.6L460.5 1778L461.5 1782.3L462.5 1785.8L464 1789.7L465.5 1792.6L467.5 1795.3L469.5 1797.2L472 1798.6L475 1799.7L478.5 1800.2L482 1800.1L485.5 1799.4L488.5 1798.3L491 1796.9L493 1795.2L495 1792.9L497 1789.5L498.5 1786.1L500 1781.5L501 1777.5L502 1772.6L503 1766.5L504.5 1754.5L506 1738.1L508.5 1703.1L509.5 1691.1L510 1687.1L510.5 1684.9L511 1684.7L511.5 1686.5L512.5 1695.5L515.5 1737L517 1753.8L518 1762.5L519 1769.5L520 1775.2L521.5 1781.7L523 1786.4L524.5 1790L526.5 1793.5L529 1796.6L531.5 1798.7L534.5 1800.5L538 1801.9L542 1803L547 1803.9L553 1804.6L560 1805.1L569 1805.5L595 1805.9L621.5 1805.7L635 1805.1L640 1804.6L644.5 1804L648.5 1803.2L651.5 1802.3L654 1801.3L656.5 1799.8L658.5 1798.3L660 1796.7L661.5 1794.7L663 1792.1L665 1787.3L666 1784L667 1779.9L668.5 1771.9L670 1760.9L674 1720.8L674.5 1717.5L675 1715.5L675.5 1715L676 1716.1L677 1722.4L680 1753.6L681.5 1766.5L682.5 1773.2L683.5 1778.6L684.5 1782.9L685.5 1786.4L687 1790.5L688.5 1793.5L690 1795.8L692 1798L694 1799.7L696.5 1801.2L699.5 1802.5L702.5 1803.3L706 1804.1L710 1804.7L720.5 1805.6L735 1806.1L756.5 1806.5L836.5 1806.8L1044 1807" fill="none" stroke="#00ae48" stroke-width="3.7" stroke-linejoin="round"/>
<path d="M58 2002.4L430 2002.2L473.5 2001.8L485.5 2001.3L494 2000.7L498 2000.2L501.5 1999.5L504 1998.8L506.5 1997.8L508.5 1996.6L510.5 1995L512 1993.4L513.5 1991.3L515.5 1987.1L517 1982.6L519 1974L521.5 1959.9L522.5 1955.1L523 1953.5L523.5 1952.6L524 1952.6L524.5 1953.3L525.5 1956.8L528.5 1973.5L530 1980.4L531.5 1985.5L533 1989.2L534 1991.1L535.5 1993.3L538 1995.8L539.5 1996.9L541.5 1997.9L543.5 1998.7L546 1999.4L550 2000.2L554.5 2000.7L567.5 2001.5L588.5 2001.9L622 2002L659 2001.8L683.5 2001.3L699.5 2000.6L705.5 2000L710.5 1999.3L715.5 1998.2L719.5 1996.8L722.5 1995.3L725.5 1993L728 1990.3L730 1987.2L732 1982.8L733.5 1978.2L734.5 1974.3L735.5 1969.5L736.5 1963.5L737.5 1956.2L739.5 1936.1L743 1890.7L743.5 1886.6L744 1884.1L744.5 1883.5L745 1884.9L746 1892.8L749 1932.4L751 1953.6L752 1961.5L753.5 1970.5L754.5 1975.1L756 1980.5L757.5 1984.5L759.5 1988.4L762 1991.7L764.5 1994L767.5 1995.9L771 1997.4L775.5 1998.7L780.5 1999.6L786.5 2000.3L794 2000.8L814 2001.5L849.5 2001.8L885 2001.6L901.5 2001.1L912.5 2000.3L917 1999.8L920.5 1999.1L923.5 1998.3L926.5 1997.1L928.5 1996.1L930.5 1994.7L932.5 1992.8L934 1990.9L935.5 1988.3L936.5 1986.2L938.5 1980.4L940 1974.1L941.5 1965.4L943 1953.9L946 1927.8L946.5 1925.1L947 1923.4L947.5 1923L948 1923.9L949 1929.2L952 1955.6L954 1969.8L955 1975.1L956 1979.3L957 1982.7L958.5 1986.7L960 1989.6L962 1992.5L964 1994.5L966 1995.9L969 1997.5L972 1998.5L976 1999.5L980.5 2000.2L990.5 2001.1L1005 2001.6L1026 2002L1058.5 2002.2L1188 2002.3L1569 2002.4" fill="none" stroke="#fd9437" stroke-width="3.3" stroke-linejoin="round"/>
<g font-family="'Liberation Sans','DejaVu Sans',sans-serif" font-size="37.5" letter-spacing="2.74" stroke-width="0.6" stroke-linejoin="round">
<text transform="translate(421.9 595.0) scale(0.872 1)"><tspan fill="#9c9c9c" stroke="#9c9c9c">HHH</tspan></text>
<text transform="translate(593.0 582.5) scale(0.872 1)"><tspan fill="#9c9c9c" stroke="#9c9c9c">HHD</tspan></text>
<text transform="translate(716.9 589.0) scale(0.872 1)"><tspan fill="#9c9c9c" stroke="#9c9c9c">HDD</tspan></text>
<text transform="translate(920.1 594.0) scale(0.872 1)"><tspan fill="#9c9c9c" stroke="#9c9c9c">HH</tspan></text>
<text transform="translate(1142.2 582.5) scale(0.872 1)"><tspan fill="#9c9c9c" stroke="#9c9c9c">HD</tspan></text>
<text transform="translate(755.5 812.9) scale(0.872 1)"><tspan fill="#9c9c9c" stroke="#9c9c9c">HHH</tspan></text>
<text transform="translate(921.7 692.4) scale(0.872 1)"><tspan fill="#9c9c9c" stroke="#9c9c9c">HHD</tspan></text>
<text transform="translate(1041.3 763.9) scale(0.872 1)"><tspan fill="#9c9c9c" stroke="#9c9c9c">HDD</tspan></text>
<text transform="translate(1203.7 743.9) scale(0.872 1)"><tspan fill="#9c9c9c" stroke="#9c9c9c">HH</tspan></text>
<text transform="translate(1418.6 678.9) scale(0.872 1)"><tspan fill="#9c9c9c" stroke="#9c9c9c">HD</tspan></text>
<text transform="translate(875.1 1039.0) scale(0.872 1)"><tspan fill="#7e2ba2" stroke="#7e2ba2">HH</tspan></text>
<text transform="translate(952.7 973.5) scale(0.872 1)"><tspan fill="#7e2ba2" stroke="#7e2ba2">HD</tspan></text>
<text transform="translate(255.7 1343.0) scale(0.872 1)"><tspan fill="#ff0000" stroke="#ff0000">HH</tspan><tspan fill="#04def8" stroke="#04def8">D</tspan></text>
<text transform="translate(367.9 1348.0) scale(0.872 1)"><tspan fill="#ff0000" stroke="#ff0000">HH</tspan><tspan fill="#04def8" stroke="#04def8">H</tspan></text>
<text transform="translate(465.0 1324.0) scale(0.872 1)"><tspan fill="#ff0000" stroke="#ff0000">H</tspan><tspan fill="#ff0000" stroke="#ff0000">D</tspan><tspan fill="#04def8" stroke="#04def8">D</tspan></text>
<text transform="translate(583.1 1341.5) scale(0.872 1)"><tspan fill="#ff0000" stroke="#ff0000">H</tspan><tspan fill="#ff0000" stroke="#ff0000">D</tspan><tspan fill="#04def8" stroke="#04def8">H</tspan></text>
<text transform="translate(232.3 1536.7) scale(0.872 1)"><tspan fill="#ff0000" stroke="#ff0000">HH</tspan><tspan fill="#04def8" stroke="#04def8">H</tspan></text>
<text transform="translate(437.5 1522.7) scale(0.872 1)"><tspan fill="#ff0000" stroke="#ff0000">HD</tspan><tspan fill="#04def8" stroke="#04def8">H</tspan></text>
<text transform="translate(639.6 1537.7) scale(0.872 1)"><tspan fill="#ff0000" stroke="#ff0000">DD</tspan><tspan fill="#04def8" stroke="#04def8">H</tspan></text>
<text transform="translate(273.0 1687.5) scale(0.872 1)"><tspan fill="#00ae48" stroke="#00ae48">HH</tspan><tspan fill="#fd9437" stroke="#fd9437">D</tspan></text>
<text transform="translate(415.2 1698.5) scale(0.872 1)"><tspan fill="#00ae48" stroke="#00ae48">HH</tspan><tspan fill="#fd9437" stroke="#fd9437">H</tspan></text>
<text transform="translate(478.0 1647.5) scale(0.872 1)"><tspan fill="#00ae48" stroke="#00ae48">H</tspan><tspan fill="#00ae48" stroke="#00ae48">D</tspan><tspan fill="#fd9437" stroke="#fd9437">D</tspan></text>
<text transform="translate(639.6 1687.5) scale(0.872 1)"><tspan fill="#00ae48" stroke="#00ae48">H</tspan><tspan fill="#00ae48" stroke="#00ae48">D</tspan><tspan fill="#fd9437" stroke="#fd9437">H</tspan></text>
<text transform="translate(487.5 1935.0) scale(0.872 1)"><tspan fill="#00ae48" stroke="#00ae48">HH</tspan><tspan fill="#fd9437" stroke="#fd9437">H</tspan></text>
<text transform="translate(710.1 1861.6) scale(0.872 1)"><tspan fill="#00ae48" stroke="#00ae48">HD</tspan><tspan fill="#fd9437" stroke="#fd9437">H</tspan></text>
<text transform="translate(913.7 1899.8) scale(0.872 1)"><tspan fill="#00ae48" stroke="#00ae48">DD</tspan><tspan fill="#fd9437" stroke="#fd9437">H</tspan></text>
</g>
<path d="M254.4 1349.4H306.6" stroke="#ff0000" stroke-width="3.5"/>
<path d="M366.6 1354.4H418.9" stroke="#ff0000" stroke-width="3.5"/>
<path d="M463.7 1330.4H489.9" stroke="#ff0000" stroke-width="3.5"/>
<path d="M581.8 1347.9H608.0" stroke="#ff0000" stroke-width="3.5"/>
<path d="M283.0 1543.1H309.2" stroke="#04def8" stroke-width="3.5"/>
<path d="M488.2 1529.1H514.4" stroke="#04def8" stroke-width="3.5"/>
<path d="M690.3 1544.1H716.5" stroke="#04def8" stroke-width="3.5"/>
<path d="M271.8 1693.9H324.0" stroke="#00ae48" stroke-width="3.5"/>
<path d="M413.9 1704.9H466.1" stroke="#00ae48" stroke-width="3.5"/>
<path d="M476.7 1653.9H502.9" stroke="#00ae48" stroke-width="3.5"/>
<path d="M638.3 1693.9H664.5" stroke="#00ae48" stroke-width="3.5"/>
<path d="M538.2 1941.4H564.4" stroke="#fd9437" stroke-width="3.5"/>
<path d="M760.9 1868.0H787.1" stroke="#fd9437" stroke-width="3.5"/>
<path d="M964.4 1906.2H990.6" stroke="#fd9437" stroke-width="3.5"/>
<g font-family="'Liberation Sans','DejaVu Sans',sans-serif" font-size="37.5" fill="#000">
<text x="66.5" y="570.6" font-size="35.6" textLength="210" lengthAdjust="spacingAndGlyphs">(PhO)<tspan font-size="23" dy="8">2</tspan><tspan dy="-8">POOH</tspan></text>
<text x="66" y="618.5" font-size="32.6" textLength="241" lengthAdjust="spacingAndGlyphs">self-associates</text>
<text x="66.5" y="852.6" font-size="35.6" textLength="224" lengthAdjust="spacingAndGlyphs">(MeO)<tspan font-size="23" dy="8">2</tspan><tspan dy="-8">POOH</tspan></text>
<text x="66" y="901.5" font-size="32.6" textLength="241" lengthAdjust="spacingAndGlyphs">self-associates</text>
</g>
<g font-family="'Liberation Sans','DejaVu Sans',sans-serif" font-size="32.2" fill="#000">
<text x="1237.1" y="1039.7" text-anchor="middle">O</text>
<text x="1375.1" y="1039.7" text-anchor="middle">O</text>
<text x="1237.7" y="1145.9" text-anchor="middle">O</text>
<text x="1375.7" y="1145.9" text-anchor="middle">O</text>
<text x="1102.8" y="1068.0">PhO</text>
<text x="1102.8" y="1126.0">PhO</text>
<text x="1194.8" y="1093.8">P</text>
<text x="1395.3" y="1093.8">P</text>
<text x="1444.9" y="1060.0">OMe</text>
<text x="1444.9" y="1118.0">OMe</text>
<text x="1273.6" y="1038.7" fill="#7e2ba2" stroke="#7e2ba2" stroke-width="1.2" stroke-linejoin="miter" font-size="31">L</text>
<text x="1320.8" y="1144.9" fill="#7e2ba2" stroke="#7e2ba2" stroke-width="1.2" stroke-linejoin="miter" font-size="31">L</text>
<text transform="translate(1313.6 1199.0) scale(0.9 1)" text-anchor="middle" font-size="38" font-weight="bold" letter-spacing="0">1<tspan font-weight="normal">–</tspan>2</text>
</g>
<path d="M1168.3 1063.9L1191.4 1074.0M1168.3 1106.4L1191.4 1093.4M1214.5 1066.8L1229.9 1042.2M1208.8 1087.6L1228.1 1121.8M1214.5 1085.6L1233.4 1118.3M1251.6 1028.6L1271.0 1028.6M1380.9 1044.2L1393.9 1066.8M1387.3 1041.3L1400.6 1063.9M1418.0 1073.2L1444.6 1058.1M1417.1 1086.5L1444.6 1101.5M1398.3 1097.2L1383.8 1121.8M1341.9 1135.4L1362.1 1135.4" fill="none" stroke="#000" stroke-width="3.8" stroke-linecap="round"/>
<path d="M1294.1 1029.2L1362.1 1029.2M1253.0 1135.4L1320.2 1135.4" fill="none" stroke="#000" stroke-width="3.8" stroke-dasharray="7.6 3.4"/>
<g font-family="'Liberation Sans','DejaVu Sans',sans-serif" font-size="30.3" fill="#000">
<text transform="translate(1230.1 1273.1) scale(1 1.035)">MeO</text>
<text transform="translate(1328.3 1273.1) scale(1 1.035)">OMe</text>
<text transform="translate(1303.3 1326.3) scale(1 1.035)">P</text>
<text transform="translate(1197.6 1497.7) scale(1 1.035)">P</text>
<text transform="translate(1401.0 1503.1) scale(1 1.035)">P</text>
<text transform="translate(1264.4 1353.9) scale(1 1.035)" text-anchor="middle">O</text>
<text transform="translate(1361.2 1353.9) scale(1 1.035)" text-anchor="middle">O</text>
<text transform="translate(1212.6 1442.0) scale(1 1.035)" text-anchor="middle">O</text>
<text transform="translate(1414.7 1447.5) scale(1 1.035)" text-anchor="middle">O</text>
<text transform="translate(1255.5 1529.4) scale(1 1.035)" text-anchor="middle">O</text>
<text transform="translate(1363.4 1530.7) scale(1 1.035)" text-anchor="middle">O</text>
<text transform="translate(1107.2 1497.7) scale(1 1.035)">PhO</text>
<text transform="translate(1129.7 1546.0) scale(1 1.035)">PhO</text>
<text transform="translate(1451.7 1497.1) scale(1 1.035)">OPh</text>
<text transform="translate(1438.4 1544.6) scale(1 1.035)">OPh</text>
<text x="1377.6" y="1386.5" fill="#ff0000" stroke="#ff0000" stroke-width="1.6" stroke-linejoin="miter" font-size="28.6">L</text>
<text x="1220.3" y="1406.8" fill="#ff0000" stroke="#ff0000" stroke-width="1.6" stroke-linejoin="miter" font-size="28.6">L</text>
<text x="1316.5" y="1530.0" fill="#04def8" stroke="#04def8" stroke-width="1.6" stroke-linejoin="miter" font-size="28.6">L</text>
<text transform="translate(1313.5 1571.5) scale(0.9 1)" text-anchor="middle" font-size="38" font-weight="bold" letter-spacing="0.6">2<tspan font-weight="normal">–</tspan>1<tspan font-weight="normal">–</tspan>2</text>
</g>
<path d="M1292.1 1275.3L1307.0 1301.8M1335.5 1273.9L1320.6 1301.8M1277.2 1333.6L1300.2 1320.6M1279.9 1339.8L1302.9 1326.3M1322.7 1320.0L1349.0 1336.3M1370.7 1355.3L1377.5 1363.4M1222.1 1411.4L1218.8 1419.0M1213.4 1446.1L1208.8 1474.6M1168.7 1486.8L1198.5 1486.8M1200.7 1500.4L1187.1 1523.4M1213.4 1495.0L1244.1 1511.2M1216.1 1489.0L1247.3 1505.8M1336.3 1518.6L1350.4 1518.6M1374.8 1512.6L1400.6 1500.4M1411.4 1450.2L1409.5 1480.0M1418.2 1450.2L1416.3 1480.0M1423.1 1492.8L1452.1 1484.9M1419.6 1497.7L1442.1 1522.1" fill="none" stroke="#000" stroke-width="3.2" stroke-linecap="round"/>
<path d="M1393.2 1389.2L1410.1 1424.4M1256.8 1356.1L1232.4 1393.3M1268.5 1517.2L1316.5 1519.4" fill="none" stroke="#000" stroke-width="3.3" stroke-dasharray="6.4 3.2"/>
<g font-family="'Liberation Sans','DejaVu Sans',sans-serif" font-size="30.3" fill="#000">
<text transform="translate(1241.0 1668.9) scale(1 1.035)">PhO</text>
<text transform="translate(1333.2 1668.4) scale(1 1.035)">OPh</text>
<text transform="translate(1308.2 1721.3) scale(1 1.035)">P</text>
<text transform="translate(1203.0 1894.0) scale(1 1.035)">P</text>
<text transform="translate(1406.4 1898.6) scale(1 1.035)">P</text>
<text transform="translate(1269.0 1749.7) scale(1 1.035)" text-anchor="middle">O</text>
<text transform="translate(1367.2 1751.0) scale(1 1.035)" text-anchor="middle">O</text>
<text transform="translate(1217.5 1838.9) scale(1 1.035)" text-anchor="middle">O</text>
<text transform="translate(1419.6 1843.3) scale(1 1.035)" text-anchor="middle">O</text>
<text transform="translate(1260.3 1925.7) scale(1 1.035)" text-anchor="middle">O</text>
<text transform="translate(1368.0 1926.0) scale(1 1.035)" text-anchor="middle">O</text>
<text transform="translate(1107.2 1893.2) scale(1 1.035)">MeO</text>
<text transform="translate(1130.3 1941.5) scale(1 1.035)">MeO</text>
<text transform="translate(1456.0 1892.7) scale(1 1.035)">OMe</text>
<text transform="translate(1443.0 1940.2) scale(1 1.035)">OMe</text>
<text x="1383.0" y="1782.8" fill="#00ae48" stroke="#00ae48" stroke-width="1.6" stroke-linejoin="miter" font-size="28.6">L</text>
<text x="1225.7" y="1804.2" fill="#00ae48" stroke="#00ae48" stroke-width="1.6" stroke-linejoin="miter" font-size="28.6">L</text>
<text x="1322.5" y="1925.8" fill="#fd9437" stroke="#fd9437" stroke-width="1.6" stroke-linejoin="miter" font-size="28.6">L</text>
<text transform="translate(1317.2 1978.9) scale(0.9 1)" text-anchor="middle" font-size="38" font-weight="bold" letter-spacing="0.6">1<tspan font-weight="normal">–</tspan>2<tspan font-weight="normal">–</tspan>1</text>
</g>
<path d="M1297.5 1670.3L1311.9 1696.8M1340.1 1669.7L1325.4 1696.8M1282.0 1729.4L1305.6 1715.6M1284.8 1735.4L1307.8 1721.8M1328.2 1715.0L1354.5 1731.8M1375.6 1751.1L1382.4 1759.8M1227.0 1807.2L1223.7 1814.6M1218.3 1841.7L1214.0 1869.6M1174.1 1882.4L1203.4 1882.4M1206.1 1895.4L1191.7 1919.3M1218.3 1890.5L1248.7 1906.8M1221.6 1884.5L1251.9 1901.4M1341.7 1914.4L1355.8 1914.4M1380.2 1908.4L1406.0 1895.9M1416.9 1846.6L1415.0 1876.4M1423.6 1846.6L1421.7 1876.4M1428.5 1888.6L1456.7 1881.0M1425.0 1893.2L1447.5 1917.6" fill="none" stroke="#000" stroke-width="3.2" stroke-linecap="round"/>
<path d="M1397.9 1786.4L1415.0 1820.8M1261.4 1751.6L1237.8 1789.1M1273.9 1913.6L1321.9 1915.2" fill="none" stroke="#000" stroke-width="3.3" stroke-dasharray="6.4 3.2"/>
</svg></body></html>
